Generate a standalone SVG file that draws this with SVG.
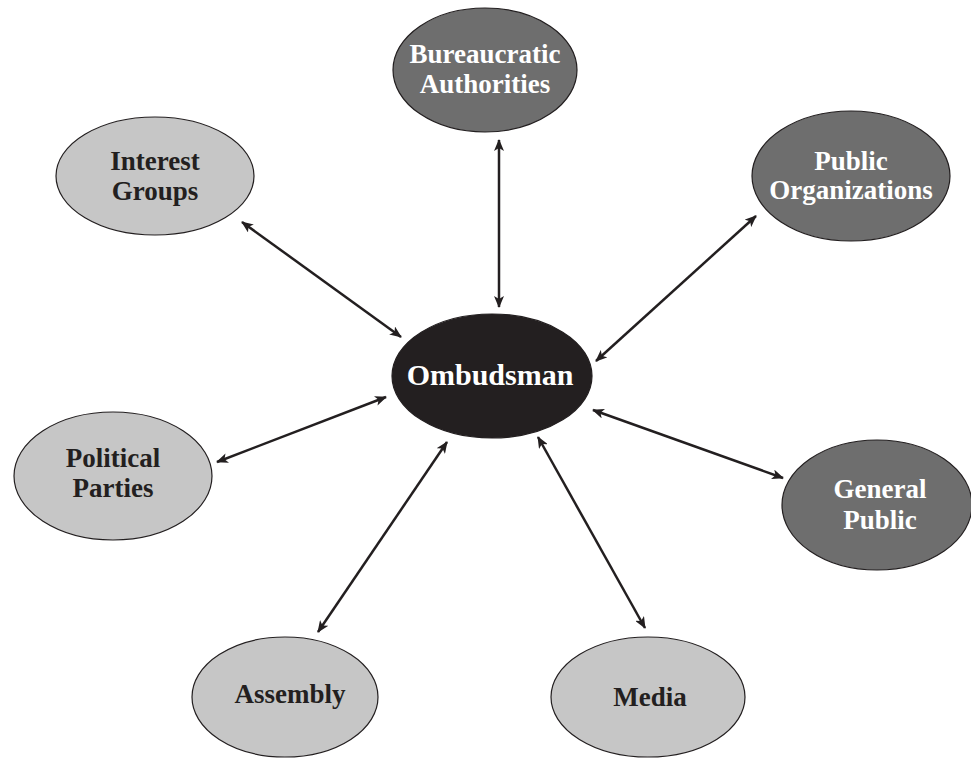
<svg xmlns="http://www.w3.org/2000/svg" width="971" height="759" viewBox="0 0 971 759">
<style>
.light{fill:#c6c6c6;stroke:#231f20;stroke-width:1.2}
.dark{fill:#6e6e6e;stroke:#231f20;stroke-width:1.2}
.center{fill:#231f20;stroke:#231f20;stroke-width:1.2}
.t{font-family:"Liberation Serif","Times New Roman",serif;font-weight:bold;font-size:27px;text-anchor:middle}
.tl{fill:#231f20}
.tw{fill:#ffffff}
.conn line{stroke:#231f20;stroke-width:2.5;fill:none;marker-start:url(#ah);marker-end:url(#ah)}
</style>
<defs>
<marker id="ah" viewBox="0 0 12 10" refX="11" refY="5" markerWidth="12" markerHeight="10" markerUnits="userSpaceOnUse" orient="auto-start-reverse">
<path d="M0,0 L12,5 L0,10 L3,5 z" fill="#231f20"/>
</marker>
</defs>
<rect width="971" height="759" fill="#ffffff"/>
<g id="connectors" class="conn">
<line x1="499" y1="140" x2="499" y2="307"/>
<line x1="242" y1="222" x2="401" y2="337"/>
<line x1="756" y1="216" x2="596" y2="361"/>
<line x1="217" y1="462" x2="386" y2="397"/>
<line x1="593" y1="410" x2="783" y2="478"/>
<line x1="447" y1="442" x2="318" y2="632"/>
<line x1="538" y1="437" x2="645" y2="628"/>
</g>
<g id="bureaucratic">
<ellipse class="dark" cx="485" cy="70" rx="92" ry="62"/>
<text class="t tw" x="485" y="63">Bureaucratic</text>
<text class="t tw" x="485" y="93">Authorities</text>
</g>
<g id="interest">
<ellipse class="light" cx="155" cy="176" rx="99" ry="59"/>
<text class="t tl" x="155" y="170">Interest</text>
<text class="t tl" x="155" y="200">Groups</text>
</g>
<g id="public-org">
<ellipse class="dark" cx="851" cy="176" rx="99" ry="65"/>
<text class="t tw" x="851" y="170">Public</text>
<text class="t tw" x="851" y="199">Organizations</text>
</g>
<g id="ombudsman">
<ellipse class="center" cx="492" cy="376" rx="100" ry="62"/>
<text class="t tw" x="490" y="385" style="font-size:30px">Ombudsman</text>
</g>
<g id="political">
<ellipse class="light" cx="113" cy="476" rx="99" ry="64"/>
<text class="t tl" x="113" y="467">Political</text>
<text class="t tl" x="113" y="497">Parties</text>
</g>
<g id="general">
<ellipse class="dark" cx="877" cy="505" rx="95" ry="65"/>
<text class="t tw" x="880" y="498">General</text>
<text class="t tw" x="880" y="529">Public</text>
</g>
<g id="assembly">
<ellipse class="light" cx="285" cy="697" rx="93" ry="60"/>
<text class="t tl" x="290" y="703">Assembly</text>
</g>
<g id="media">
<ellipse class="light" cx="648" cy="697" rx="97" ry="60"/>
<text class="t tl" x="650" y="706">Media</text>
</g>
</svg>
